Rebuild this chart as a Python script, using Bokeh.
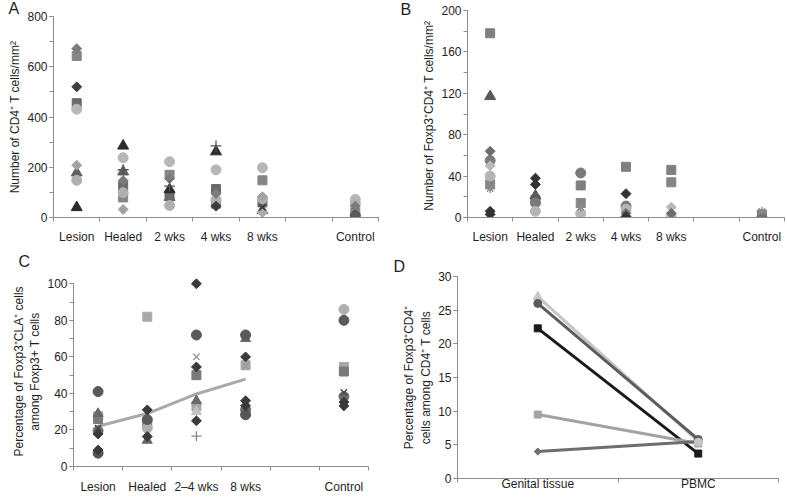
import math
from bokeh.plotting import figure
from bokeh.layouts import column, row
from bokeh.models import FixedTicker, Range1d, Label, Spacer
from bokeh.embed import file_html
from bokeh.resources import INLINE

FONT = "Liberation Sans"
AXIS = "#8c8c8c"
TXT = "#1e1e1e"

# ---------------- Panel A: CD4+ T cells / mm2 ----------------
a_categories = ["Lesion", "Healed", "2 wks", "4 wks", "8 wks", "", "Control"]
a_diamond_mid = [672, 147, 155, 95, None, None, 45]
a_square_mid = [643, 80, 170, 55, 148, None, 20]
a_diamond_dark = [520, None, None, 45, None, None, 10]
a_square_dark = [455, 125, 90, 113, 60, None, None]
a_circle_light = [431, 238, 222, 190, 198, None, 72]
a_diamond_light = [208, 32, None, None, 83, None, None]
a_triangle_mid = [178, 182, 80, None, 28, None, None]
a_circle_light2 = [148, 99, 48, 70, 75, None, 55]
a_triangle_dark = [40, 285, 111, 262, None, None, None]
a_plus = [None, 190, 125, 285, None, None, None]
a_x_dark = [None, None, None, None, 40, None, None]
a_diamond_light2 = [None, None, None, None, 20, None, None]
a_circle_dark = [None, None, None, None, None, None, 7]

# ---------------- Panel B: Foxp3+CD4+ T cells / mm2 ----------------
b_categories = ["Lesion", "Healed", "2 wks", "4 wks", "8 wks", "", "Control"]
b_square_mid = [178, 17, 31, 49, 46, None, 3]
b_triangle = [117, 21, None, None, None, None, None]
b_diamond_mid = [64, None, None, 4, 4, None, 1]
b_circle_mid = [55, 14, 43, 11, None, None, None]
b_diamond_light = [50, None, None, None, 10, None, None]
b_circle_light = [40, 6, 4, 8, 1, None, None]
b_square_mid2 = [32, None, 14, None, 34, None, None]
b_asterisk = [28, None, 10, None, None, None, 6]
b_diamond_dark = [6, 38, None, 23, None, None, None]
b_diamond_dark2 = [3, 32, None, 1, None, None, None]

# ---------------- Panel C: % Foxp3+CLA+ among Foxp3+ ----------------
c_categories = ["Lesion", "Healed", "2\u20134 wks", "8 wks", "", "Control"]
c_circle_dark = [41, 25.7, 72, 72, None, 80]
c_square_light = [27.5, 82, 33, 55.4, None, 54.5]
c_square_mid = [26, 24, 50, None, None, 52]
c_triangle_mid = [29, 14.3, 36, 70, None, None]
c_x_dark = [21, None, None, None, None, 40.5]
c_x_light = [None, None, 60, 55, None, None]
c_circle_mid = [19.6, None, None, 31, None, 38.3]
c_diamond_dark = [17.8, 31, 54.5, 60, None, 35.3]
c_diamond_dark2 = [9, 16.4, 25, 33.2, None, 33.2]
c_circle_dark2 = [7.3, None, None, 28.3, None, None]
c_triangle_light = [None, None, 30, None, None, None]
c_diamond_dark3 = [None, None, 100, 36, None, None]
c_plus = [None, None, 16.6, None, None, None]
c_circle_light = [None, 21, None, None, None, 86]
c_mean = [22, 29, 39.7, 47.8]

# ---------------- Panel D: % Foxp3+CD4+ among CD4+ ----------------
d_categories = ["Genital tissue", "PBMC"]
d_triangle_light = [27.0, 5.5]
d_circle_dark = [26.0, 5.8]
d_square_black = [22.3, 3.7]
d_square_light = [9.5, 5.2]
d_diamond_mid = [4.0, 5.5]


def make_fig(width, height, cats, ymax, ymajor, yminor, borders, ytitle,
             xlab_standoff, ypad=0):
    n = len(cats)
    left, right, top, bottom = borders
    p = figure(width=width, height=height,
               x_range=Range1d(-0.5, n - 0.5), y_range=Range1d(0, ymax + ypad),
               output_backend="svg", toolbar_location=None,
               min_border_left=left, min_border_right=right,
               min_border_top=top, min_border_bottom=bottom)
    p.frame_align = False
    p.outline_line_color = None
    p.grid.visible = False
    p.background_fill_color = "white"
    p.border_fill_color = "white"

    xa = p.xaxis[0]
    xa.ticker = FixedTicker(ticks=[i for i, c in enumerate(cats) if c],
                            minor_ticks=[i - 0.5 for i in range(n + 1)])
    xa.major_label_overrides = {i: c for i, c in enumerate(cats) if c}
    xa.major_tick_line_color = None
    xa.major_tick_out = 0
    xa.major_tick_in = 0
    xa.major_label_standoff = xlab_standoff

    ya = p.yaxis[0]
    ya.ticker = FixedTicker(ticks=list(range(0, ymax + 1, ymajor)),
                            minor_ticks=list(range(0, ymax + 1, yminor)))
    ya.bounds = (0, ymax)
    ya.major_tick_out = 4
    ya.major_tick_in = 0
    ya.major_label_standoff = 2
    ya.axis_label = ytitle
    ya.axis_label_standoff = 2

    for ax in (xa, ya):
        ax.axis_line_color = AXIS
        ax.minor_tick_line_color = AXIS
        ax.minor_tick_in = 0
        ax.minor_tick_out = 4
        ax.major_label_text_font = FONT
        ax.major_label_text_font_size = "12px"
        ax.major_label_text_color = TXT
        ax.axis_label_text_font = FONT
        ax.axis_label_text_font_size = "12px"
        ax.axis_label_text_font_style = "normal"
        ax.axis_label_text_color = TXT
    ya.major_tick_line_color = AXIS
    return p


def draw(p, values, marker, color, size, angle=0.0):
    xs = [i for i, v in enumerate(values) if v is not None]
    ys = [v for v in values if v is not None]
    if marker in ("x", "cross", "asterisk"):
        p.scatter(xs, ys, marker=marker, size=size, line_color=color,
                  line_width=1.3, fill_color=None)
    else:
        p.scatter(xs, ys, marker=marker, size=size, fill_color=color,
                  line_color=color, angle=angle)


def letter(p, text, x, y, xoff, yoff, place):
    p.add_layout(Label(x=x, y=y, x_offset=xoff, y_offset=yoff, text=text,
                       text_font=FONT, text_font_size="16px", text_color=TXT,
                       text_align="left", text_baseline="middle"), place)


DIA = math.pi / 4

# Panel A  (canvas 5..416 x 0..246; frame x 50..378, y 16..218)
pA = make_fig(411, 246, a_categories, 800, 200, 100, (45, 38, 16, 28),
              "Number of CD4\u207a T cells/mm\u00b2", 8)
draw(pA, a_triangle_mid, "triangle", "#5f5f5f", 11)
draw(pA, a_square_mid, "square", "#858585", 9)
draw(pA, a_square_dark, "square", "#6a6a6a", 9)
draw(pA, a_circle_light, "circle", "#b7b7b7", 10)
draw(pA, a_circle_light2, "circle", "#b0b0b0", 10)
draw(pA, a_diamond_mid, "square", "#7c7c7c", 7, DIA)
draw(pA, a_diamond_light, "square", "#a2a2a2", 7, DIA)
draw(pA, a_diamond_light2, "square", "#acacac", 7, DIA)
draw(pA, a_diamond_dark, "square", "#3c3c3c", 7, DIA)
draw(pA, a_triangle_dark, "triangle", "#2b2b2b", 11)
draw(pA, a_circle_dark, "circle", "#5a5a5a", 10)
draw(pA, a_plus, "cross", "#555555", 11)
draw(pA, a_x_dark, "x", "#333333", 9)
letter(pA, "A", -0.5, 800, -45, 8, "right")
letter(pA, "B", 6.5, 800, 22, 7, "right")

# Panel B  (canvas 416..785; frame x 467..784, y 10..219)
pB = make_fig(369, 246, b_categories, 200, 40, 20, (51, 1, 10, 27),
              "Number of Foxp3\u207aCD4\u207a  T cells/mm\u00b2", 8)
draw(pB, b_square_mid, "square", "#7f7f7f", 9)
draw(pB, b_square_mid2, "square", "#858585", 9)
draw(pB, b_triangle, "triangle", "#5a5a5a", 11)
draw(pB, b_circle_mid, "circle", "#7a7a7a", 10)
draw(pB, b_circle_light, "circle", "#b5b5b5", 10)
draw(pB, b_diamond_light, "square", "#b8b8b8", 7, DIA)
draw(pB, b_diamond_mid, "square", "#6e6e6e", 7, DIA)
draw(pB, b_diamond_dark, "square", "#333333", 7, DIA)
draw(pB, b_diamond_dark2, "square", "#333333", 7, DIA)
draw(pB, b_asterisk, "asterisk", "#8a8a8a", 9)

# Panel C  (canvas 8..392 x 246..496; frame x 63..368, y 276..468)
pC = make_fig(384, 250, c_categories, 100, 20, 10, (55, 24, 30, 28),
              "Percentage of Foxp3\u207aCLA\u207a cells\namong Foxp3+ T cells", 9,
              ypad=4)
pC.line(list(range(len(c_mean))), c_mean, line_color="#a9a9a9", line_width=3)
draw(pC, c_square_light, "square", "#a8a8a8", 9)
draw(pC, c_square_mid, "square", "#7a7a7a", 9)
draw(pC, c_triangle_mid, "triangle", "#6a6a6a", 10)
draw(pC, c_triangle_light, "triangle", "#c4c4c4", 10)
draw(pC, c_circle_light, "circle", "#b0b0b0", 10)
draw(pC, c_circle_mid, "circle", "#6e6e6e", 10)
draw(pC, c_circle_dark, "circle", "#5a5a5a", 10)
draw(pC, c_circle_dark2, "circle", "#555555", 10)
draw(pC, c_diamond_dark, "square", "#3a3a3a", 7, DIA)
draw(pC, c_diamond_dark2, "square", "#3a3a3a", 7, DIA)
draw(pC, c_diamond_dark3, "square", "#3a3a3a", 7, DIA)
draw(pC, c_x_dark, "x", "#444444", 9)
draw(pC, c_x_light, "x", "#9a9a9a", 9)
draw(pC, c_plus, "cross", "#888888", 10)
letter(pC, "C", -0.5, 104, -55, 15, "right")

# Panel D  (canvas 392..785 x 246..496; frame x 457..778, y 276..478)
pD = make_fig(393, 250, d_categories, 30, 5, 5, (65, 7, 30, 18),
              "Percentage of Foxp3\u207aCD4\u207a\ncells among CD4\u207a T cells", -6)
for vals, marker, color, size, ang in [
        (d_triangle_light, "triangle", "#c6c6c6", 9, 0.0),
        (d_circle_dark, "circle", "#5c5c5c", 8, 0.0),
        (d_square_black, "square", "#1a1a1a", 7, 0.0),
        (d_square_light, "square", "#a3a3a3", 7, 0.0),
        (d_diamond_mid, "square", "#6e6e6e", 5, DIA)]:
    pD.line([0, 1], vals, line_color=color, line_width=3)
    draw(pD, vals, marker, color, size, ang)
pD.scatter([1], [5.4], marker="circle", size=8, fill_color="#c6c6c6", line_color="#c6c6c6")
letter(pD, "D", -0.5, 30, -64, 10, "above")

layout = column(row(Spacer(width=5, height=246), pA, pB),
                row(Spacer(width=8, height=250), pC, pD))
open("out.html", "w").write(file_html(layout, INLINE))
